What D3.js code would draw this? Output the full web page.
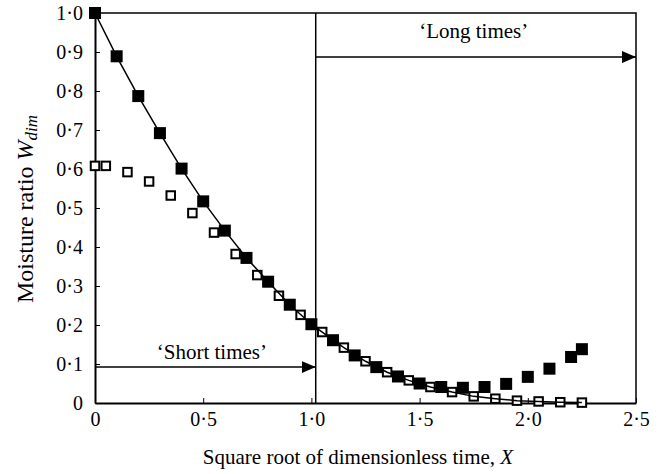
<!DOCTYPE html>
<html>
<head>
<meta charset="utf-8">
<script src="https://cdn.jsdelivr.net/npm/d3@7"></script>
<style>
  body { margin: 0; background: #fff; }
  svg text { font-family: "Liberation Serif", "DejaVu Serif", serif; fill: #000; }
</style>
</head>
<body>
<svg></svg>
<script>
// measured series (filled squares)
const filledX = [0, 0.1, 0.2, 0.3, 0.4, 0.5, 0.6, 0.7, 0.8, 0.9, 1.0, 1.1, 1.2, 1.3, 1.4, 1.5, 1.6, 1.7, 1.8, 1.9, 2.0, 2.1, 2.2, 2.25];
const filledY = [1.0, 0.889, 0.787, 0.692, 0.601, 0.517, 0.442, 0.372, 0.311, 0.252, 0.202, 0.161, 0.122, 0.092, 0.068, 0.050, 0.041, 0.039, 0.041, 0.049, 0.067, 0.088, 0.118, 0.138];

// open squares
const openX = [0, 0.05, 0.15, 0.25, 0.35, 0.45, 0.55, 0.65, 0.75, 0.85, 0.95, 1.05, 1.15, 1.25, 1.35, 1.45, 1.55, 1.65, 1.75, 1.85, 1.95, 2.05, 2.15, 2.25];
const openY = [0.608, 0.608, 0.592, 0.568, 0.532, 0.487, 0.437, 0.382, 0.328, 0.275, 0.226, 0.182, 0.142, 0.107, 0.079, 0.058, 0.041, 0.028, 0.017, 0.011, 0.006, 0.004, 0.002, 0.001];

// model curve
const lineX = [0, 0.1, 0.2, 0.3, 0.4, 0.5, 0.6, 0.7, 0.8, 0.9, 1.0, 1.05, 1.15, 1.25, 1.35, 1.45, 1.55, 1.65, 1.75, 1.85, 1.95, 2.05, 2.15, 2.25];
const lineY = [1.0, 0.889, 0.787, 0.692, 0.601, 0.517, 0.442, 0.372, 0.311, 0.252, 0.202, 0.182, 0.142, 0.107, 0.079, 0.058, 0.041, 0.028, 0.017, 0.011, 0.006, 0.004, 0.002, 0.001];

const xTicks = [0, 0.5, 1.0, 1.5, 2.0, 2.5];
const yTicks = [0, 0.1, 0.2, 0.3, 0.4, 0.5, 0.6, 0.7, 0.8, 0.9, 1.0];

const divideX = 1.02;
const shortArrowY = 0.092;
const longArrowY = 0.887;

const width = 665;
const height = 474;
const margin = { left: 95, right: 29, top: 13, bottom: 71 };

const svg = d3.select('svg')
    .attr('width', width)
    .attr('height', height);

const x = d3.scaleLinear()
    .domain([0, 2.5])
    .range([margin.left, width - margin.right]);

const y = d3.scaleLinear()
    .domain([0, 1])
    .range([height - margin.bottom, margin.top]);

const fmt = d => d === 0 ? '0' : d3.format('.1f')(d).replace('.', '\u00b7');

// arrow head
svg.append('defs').append('marker')
    .attr('id', 'head')
    .attr('viewBox', '0 0 14 12')
    .attr('refX', 14)
    .attr('refY', 6)
    .attr('markerWidth', 14)
    .attr('markerHeight', 12)
    .attr('markerUnits', 'userSpaceOnUse')
    .attr('orient', 'auto')
    .append('path')
    .attr('d', 'M0,0 L14,6 L0,12 Z')
    .attr('fill', '#000');

// frame top + right
svg.append('path')
    .attr('d', `M${x(0)},${y(1)} H${x(2.5)} V${y(0)}`)
    .attr('fill', 'none')
    .attr('stroke', '#000')
    .attr('stroke-width', 1.5);

// axes
const xAxis = d3.axisBottom(x)
    .tickValues(xTicks)
    .tickFormat(fmt)
    .tickSizeInner(-5)
    .tickSizeOuter(0)
    .tickPadding(9);

const yAxis = d3.axisLeft(y)
    .tickValues(yTicks)
    .tickFormat(fmt)
    .tickSizeInner(-5)
    .tickSizeOuter(0)
    .tickPadding(12);

const gx = svg.append('g')
    .attr('transform', 'translate(0,' + y(0) + ')')
    .call(xAxis);

const gy = svg.append('g')
    .attr('transform', 'translate(' + x(0) + ',0)')
    .call(yAxis);

[gx, gy].forEach(g => {
    g.attr('font-family', null).attr('font-size', null);
    g.select('.domain').attr('stroke-width', 2);
    g.selectAll('.tick line').attr('stroke-width', 1);
    g.selectAll('.tick text').style('font-size', '20px');
});

// divider line
svg.append('line')
    .attr('x1', x(divideX)).attr('x2', x(divideX))
    .attr('y1', y(1)).attr('y2', y(0))
    .attr('stroke', '#000')
    .attr('stroke-width', 1.5);

// arrows
svg.append('line')
    .attr('x1', x(0)).attr('x2', x(divideX))
    .attr('y1', y(shortArrowY)).attr('y2', y(shortArrowY))
    .attr('stroke', '#000').attr('stroke-width', 1.5)
    .attr('marker-end', 'url(#head)');

svg.append('line')
    .attr('x1', x(divideX)).attr('x2', x(2.5))
    .attr('y1', y(longArrowY)).attr('y2', y(longArrowY))
    .attr('stroke', '#000').attr('stroke-width', 1.5)
    .attr('marker-end', 'url(#head)');

svg.append('text')
    .attr('x', x(0.54))
    .attr('y', y(shortArrowY) - 8)
    .attr('text-anchor', 'middle')
    .style('font-size', '21px')
    .text('\u2018Short times\u2019');

svg.append('text')
    .attr('x', x(1.75))
    .attr('y', y(longArrowY) - 19)
    .attr('text-anchor', 'middle')
    .style('font-size', '21px')
    .text('\u2018Long times\u2019');

// filled squares
const s1 = 12;
svg.selectAll('rect.filled')
    .data(filledX.map((d, i) => [d, filledY[i]]))
    .enter()
    .append('rect')
    .attr('class', 'filled')
    .attr('x', d => x(d[0]) - s1 / 2)
    .attr('y', d => y(d[1]) - s1 / 2)
    .attr('width', s1)
    .attr('height', s1)
    .attr('fill', '#000');

// open squares
const s2 = 8.5;
svg.selectAll('rect.open')
    .data(openX.map((d, i) => [d, openY[i]]))
    .enter()
    .append('rect')
    .attr('class', 'open')
    .attr('x', d => x(d[0]) - s2 / 2)
    .attr('y', d => y(d[1]) - s2 / 2)
    .attr('width', s2)
    .attr('height', s2)
    .attr('fill', '#fff')
    .attr('stroke', '#000')
    .attr('stroke-width', 2);

// model line
const line = d3.line()
    .x(d => x(d[0]))
    .y(d => y(d[1]));

svg.append('path')
    .datum(lineX.map((d, i) => [d, lineY[i]]))
    .attr('d', line)
    .attr('fill', 'none')
    .attr('stroke', '#000')
    .attr('stroke-width', 1.5);

// axis titles
svg.append('text')
    .attr('x', 358)
    .attr('y', 464)
    .attr('text-anchor', 'middle')
    .style('font-size', '21px')
    .html('Square root of dimensionless time, <tspan font-style="italic">X</tspan>');

svg.append('text')
    .attr('transform', 'translate(33,209) rotate(-90)')
    .attr('text-anchor', 'middle')
    .style('font-size', '24px')
    .html('Moisture ratio <tspan font-style="italic">W</tspan><tspan font-style="italic" font-size="17px" dy="4">dim</tspan>');
</script>
</body>
</html>
